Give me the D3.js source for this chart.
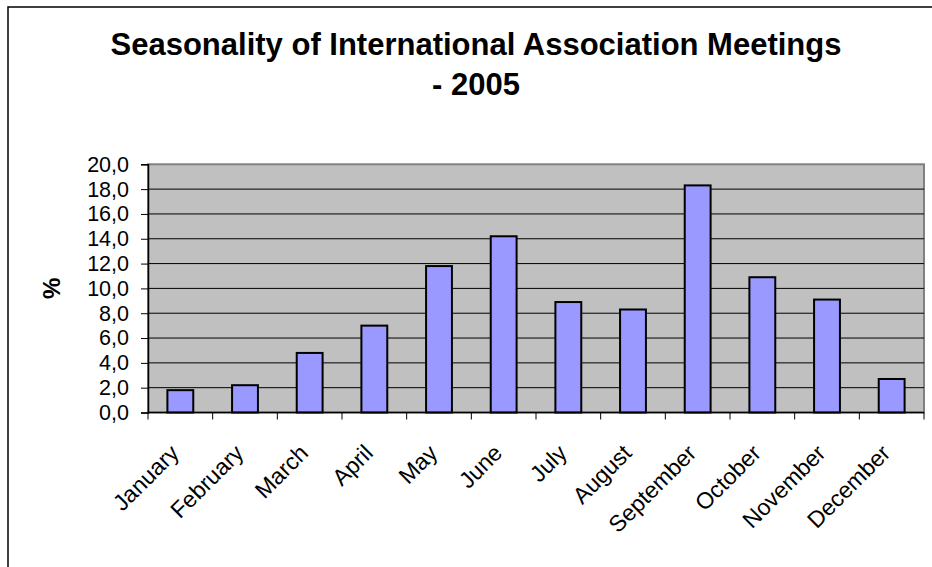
<!DOCTYPE html>
<html>
<head>
<meta charset="utf-8">
<script src="https://cdn.jsdelivr.net/npm/d3@7/dist/d3.min.js"></script>
<style>
  html, body { margin: 0; padding: 0; background: #fff; }
  svg { display: block; }
  text { font-family: "Liberation Sans", Arial, sans-serif; fill: #000; }
</style>
</head>
<body>
<svg id="chart" width="932" height="567"></svg>
<script>
const titleLines = ["Seasonality of International Association Meetings", "- 2005"];
const yAxisLabel = "%";
const months = ["January", "February", "March", "April", "May", "June", "July", "August", "September", "October", "November", "December"];
const shares = [1.8, 2.2, 4.8, 7.0, 11.8, 14.2, 8.9, 8.3, 18.3, 10.9, 9.1, 2.7];
const yTicks = [0, 2, 4, 6, 8, 10, 12, 14, 16, 18, 20];

const svg = d3.select("#chart");
const W = 932, H = 567;
const m = { left: 148, right: 924, top: 164.3, bottom: 412.5 };

// outer chart border (extends beyond the visible area on right/bottom)
svg.append("rect")
  .attr("x", 8).attr("y", 7)
  .attr("width", W + 20).attr("height", H + 20)
  .attr("fill", "#fff").attr("stroke", "#000").attr("stroke-width", 1.5);

// title
svg.append("text")
  .attr("x", 476).attr("y", 55)
  .attr("text-anchor", "middle")
  .style("font-weight", "bold").style("font-size", "31px")
  .text(titleLines[0]);
svg.append("text")
  .attr("x", 476).attr("y", 95)
  .attr("text-anchor", "middle")
  .style("font-weight", "bold").style("font-size", "31px")
  .text(titleLines[1]);

const x = d3.scaleBand().domain(months).range([m.left, m.right]).paddingInner(0.6).paddingOuter(0.3);
const y = d3.scaleLinear().domain([0, 20]).range([m.bottom, m.top]);

// plot area
svg.append("rect")
  .attr("x", m.left).attr("y", m.top)
  .attr("width", m.right - m.left).attr("height", m.bottom - m.top)
  .attr("fill", "#C0C0C0").attr("stroke", "#808080").attr("stroke-width", 2);

// gridlines
svg.append("g").selectAll("line").data(yTicks.filter(d => d > 0 && d < 20)).join("line")
  .attr("x1", m.left).attr("x2", m.right)
  .attr("y1", d => y(d)).attr("y2", d => y(d))
  .attr("stroke", "#000").attr("stroke-width", 1);

// bars
svg.append("g").selectAll("rect").data(months).join("rect")
  .attr("x", d => x(d))
  .attr("y", (d, i) => y(shares[i]))
  .attr("width", x.bandwidth())
  .attr("height", (d, i) => y(0) - y(shares[i]))
  .attr("fill", "#9999FF").attr("stroke", "#000").attr("stroke-width", 2);

// y axis
const yAxis = d3.axisLeft(y).tickValues(yTicks).tickSize(7).tickPadding(12)
  .tickFormat(d => d3.format(".1f")(d).replace(".", ","));
const gy = svg.append("g").attr("transform", `translate(${m.left},0)`).call(yAxis);
gy.select(".domain").attr("stroke", "#000").attr("stroke-width", 1.5);
gy.selectAll(".tick line").attr("stroke", "#000");
gy.selectAll(".tick text").style("font-size", "21.5px").attr("fill", "#000")
  .attr("font-family", "Liberation Sans, Arial, sans-serif");

// x axis: ticks at category boundaries
const boundaries = d3.range(months.length + 1).map(i => m.left + i * x.step());
const gx = svg.append("g");
gx.append("line").attr("x1", m.left).attr("x2", m.right)
  .attr("y1", m.bottom).attr("y2", m.bottom)
  .attr("stroke", "#000").attr("stroke-width", 1.5);
gx.selectAll("line.tk").data(boundaries).join("line").attr("class", "tk")
  .attr("x1", d => d).attr("x2", d => d)
  .attr("y1", m.bottom).attr("y2", m.bottom + 7)
  .attr("stroke", "#000");
gx.selectAll("text").data(months).join("text")
  .attr("transform", d => `translate(${x(d) + x.bandwidth() / 2},${m.bottom + 42}) rotate(-45)`)
  .attr("text-anchor", "end")
  .style("font-size", "23px")
  .text(d => d);

// y axis label
svg.append("text")
  .attr("transform", `translate(60,${(m.top + m.bottom) / 2}) rotate(-90)`)
  .attr("text-anchor", "middle")
  .style("font-weight", "bold").style("font-size", "24px")
  .text(yAxisLabel);
</script>
</body>
</html>
